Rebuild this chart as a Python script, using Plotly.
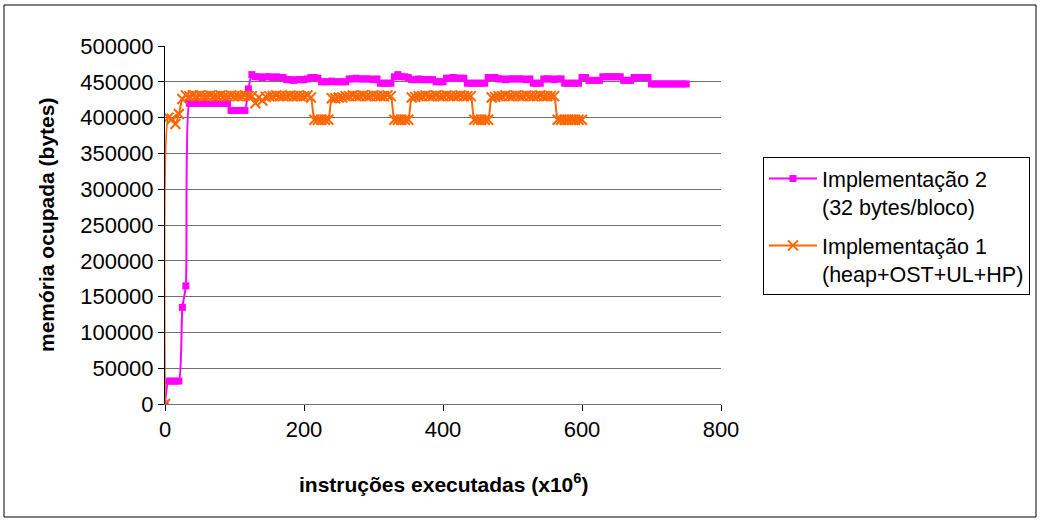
import plotly.graph_objects as go

# ---- data ----
impl2_x = list(range(0, 755, 5))
impl2_y = [
    0, 32000, 32000, 32000, 32000, 135000, 165000, 420000,            # 0..35
    420000, 420000, 420000, 420000, 420000, 420000, 420000, 420000,   # 40..75
    420000, 420000, 420000,                                           # 80..90
    410000, 410000, 410000, 410000, 410000,                           # 95..115
    440000, 460000,                                                   # 120,125
    457000, 457000, 456000, 457000, 457000, 456000, 457000, 456000, 456000,  # 130..170
    453000, 453000, 452000, 453000, 453000, 453000, 454000, 456000, 456000,  # 175..215
    455000, 450000,                                                   # 220..225
    450000, 450000, 451000, 450000, 450000, 450000, 450000,           # 230..260
    454000, 454000, 455000, 454000, 454000, 454000, 454000, 453000, 454000,  # 265..305
    448000, 448000, 448000, 448000,                                   # 310..325
    457000, 460000, 457000, 457000, 456000,                           # 330..350
    453000, 453000, 454000, 453000, 453000, 453000, 453000,           # 355..385
    450000, 450000, 450000,                                           # 390..400
    455000, 455000, 456000, 455000, 455000, 455000,                   # 405..430
    448000, 448000, 448000, 448000, 448000, 448000,                   # 435..460
    456000, 456000, 456000,                                           # 465..475
    454000, 454000, 453000, 454000, 454000, 454000, 454000, 454000, 453000, 454000,  # 480..525
    448000, 448000, 448000,                                           # 530..540
    454000, 454000, 454000, 453000, 454000, 454000,                   # 545..570
    448000, 448000, 448000, 448000, 448000,                           # 575..595
    456000, 456000,                                                   # 600..605
    452000, 452000, 452000, 452000,                                   # 610..625
    457000, 457000, 457000, 457000, 457000, 457000,                   # 630..655
    452000, 452000, 452000,                                           # 660..670
    456000, 456000, 456000, 456000, 456000,                           # 675..695
    447000, 447000, 447000, 447000, 447000, 447000, 447000, 447000, 447000, 447000, 447000,  # 700..750
]

impl1_x = list(range(0, 605, 5))
impl1_y = [
    0, 400000, 398000, 391000, 405000, 426000, 431000,                # 0..30
    430000, 431000, 430000, 431000, 430000, 430000, 431000, 430000, 430000, 431000,  # 35..80
    430000, 430000, 431000, 430000, 430000, 430000, 431000, 430000, 430000,  # 85..125
    420000, 428000, 424000, 429000,                                   # 130..145
    430000, 430000, 431000, 430000, 430000, 430000, 431000, 430000, 430000, 430000,  # 150..195
    430000, 431000, 428000,                                           # 200..210
    397000, 397000, 397000, 397000, 397000,                           # 215..235
    427000, 427000, 428000, 428000, 430000, 430000, 431000, 430000, 430000,  # 240..280
    431000, 430000, 430000, 431000, 430000, 430000, 430000, 431000, 430000,  # 285..325
    397000, 397000, 397000, 397000, 397000,                           # 330..350
    428000, 429000, 430000, 430000, 431000, 430000, 430000, 431000, 430000,  # 355..395
    430000, 431000, 430000, 430000, 430000, 431000, 430000, 430000, 430000,  # 400..440
    397000, 397000, 397000, 397000, 397000,                           # 445..465
    428000, 429000, 430000, 430000, 431000, 430000, 430000, 431000, 430000, 430000,  # 470..515
    431000, 430000, 430000, 430000, 431000, 430000, 430000, 430000, 430000,  # 520..560
    397000, 397000, 397000, 397000, 397000, 397000, 397000, 397000,   # 565..600
]

x_ticks = [0, 200, 400, 600, 800]
y_ticks = [0, 50000, 100000, 150000, 200000, 250000, 300000, 350000, 400000, 450000, 500000]

name2 = "Implementação 2<br>(32 bytes/bloco)"
name1 = "Implementação 1<br>(heap+OST+UL+HP)"

MAGENTA = "#FF00FF"
ORANGE = "#FF6600"
FONT = "Liberation Sans, Arial, sans-serif"

impl2_x = impl2_x[:len(impl2_y)]
impl1_x = impl1_x[:len(impl1_y)]

fig = go.Figure()
fig.add_trace(go.Scatter(
    x=impl2_x, y=impl2_y, name=name2, mode="lines+markers", legendgroup="g2",
    line=dict(color=MAGENTA, width=2, shape="spline", smoothing=0.6),
    marker=dict(symbol="square", size=7, color=MAGENTA),
))
fig.add_trace(go.Scatter(
    x=impl1_x, y=impl1_y, name=name1, mode="lines+markers", legendgroup="g1",
    line=dict(color=ORANGE, width=2, shape="spline", smoothing=0.6),
    marker=dict(symbol="x-thin", size=10, color=ORANGE, line=dict(color=ORANGE, width=2)),
))

L, R, T, B = 165, 319, 46, 116
W, H = 1040, 520
PW, PH = W - L - R, H - T - B


def px_x(p):
    return (p - L) / PW


def px_y(p):
    return (H - B - p) / PH


fig.update_layout(
    width=W, height=H,
    margin=dict(l=L, r=R, t=T, b=B, pad=0, autoexpand=False),
    paper_bgcolor="white", plot_bgcolor="white",
    font=dict(family=FONT, size=22, color="black"),
    showlegend=True,
    legend=dict(
        x=px_x(763), y=px_y(157), xanchor="left", yanchor="top",
        bordercolor="black", borderwidth=1, bgcolor="white",
        font=dict(family=FONT, size=21.5, color="black"),
        tracegroupgap=8, itemwidth=48, valign="top",
    ),
    xaxis=dict(
        range=[0, 800], tickvals=x_ticks, ticks="outside", ticklen=6,
        tickcolor="black", showline=True, linecolor="#707070", linewidth=1,
        showgrid=False, zeroline=False,
        tickfont=dict(family=FONT, size=22, color="black"),
    ),
    yaxis=dict(
        range=[0, 500000], tickvals=y_ticks, tickformat="d", ticks="outside",
        ticklen=6, tickcolor="black", showline=True, linecolor="black",
        linewidth=1, showgrid=True, gridcolor="#707070", gridwidth=1,
        zeroline=False,
        tickfont=dict(family=FONT, size=22, color="black"),
    ),
    annotations=[
        dict(text="instruções executadas (x10<sup>6</sup>)", xref="paper", yref="paper",
             x=0.5, y=px_y(483), xanchor="center", yanchor="middle", showarrow=False,
             font=dict(family=FONT, size=21, color="black", weight="bold")),
        dict(text="memória ocupada (bytes)", xref="paper", yref="paper",
             x=px_x(46), y=0.5, xanchor="center", yanchor="middle", showarrow=False,
             textangle=-90,
             font=dict(family=FONT, size=21, color="black", weight="bold")),
    ],
    shapes=[
        dict(type="rect", xref="paper", yref="paper",
             x0=px_x(4), x1=px_x(1036), y0=px_y(517), y1=px_y(5),
             line=dict(color="black", width=1), fillcolor="rgba(0,0,0,0)", layer="below"),
    ],
)

fig.write_html("out.html")
